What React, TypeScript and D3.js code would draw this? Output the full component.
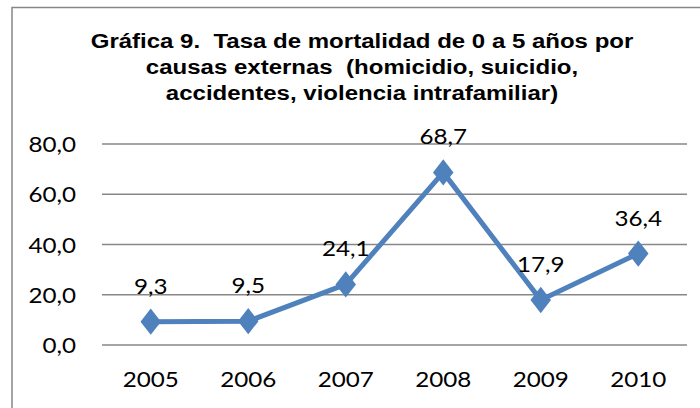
import React, { useEffect, useRef } from 'react';
import { scaleLinear, scalePoint, select, line, symbol, symbolDiamond } from 'd3';

const years = ['2005', '2006', '2007', '2008', '2009', '2010'];
const rates = [9.3, 9.5, 24.1, 68.7, 17.9, 36.4];
const yTicks = [0, 20, 40, 60, 80];
const titleLines = [
  'Gráfica 9.  Tasa de mortalidad de 0 a 5 años por',
  'causas externas  (homicidio, suicidio,',
  'accidentes, violencia intrafamiliar)',
];

const W = 700;
const H = 408;
const fmt = (v: number) => v.toFixed(1).replace('.', ',');

const App: React.FC = () => {
  const svgRef = useRef<SVGSVGElement>(null);

  useEffect(() => {
    const svg = select(svgRef.current);
    svg.selectAll('*').remove();

    const left = 102;
    const right = 687;
    const x = scalePoint<string>().domain(years).range([left, right]).padding(0.5);
    const y = scaleLinear().domain([0, 80]).range([345, 144]);

    // frame
    svg
      .append('rect')
      .attr('x', 12)
      .attr('y', 7.5)
      .attr('width', W)
      .attr('height', H)
      .attr('fill', 'white')
      .attr('stroke', '#878787')
      .attr('stroke-width', 1.5);

    // title (text in the source is a bit wide, stretch horizontally)
    const title = svg
      .append('g')
      .selectAll('text')
      .data(titleLines)
      .join('text')
      .attr('text-anchor', 'middle')
      .attr('xml:space', 'preserve')
      .style('white-space', 'pre')
      .attr('font-family', '"Liberation Sans", Arial, sans-serif')
      .attr('font-weight', 'bold')
      .attr('font-size', 21)
      .attr('fill', '#000')
      .text((d) => d);
    const firstLen = (title.node() as SVGTextElement).getComputedTextLength();
    const tsx = firstLen > 0 ? 543 / firstLen : 1;
    title.attr('transform', (_, i) => `translate(362,${48 + i * 26}) scale(${tsx},1)`);

    // gridlines
    svg
      .append('g')
      .selectAll('line')
      .data(yTicks)
      .join('line')
      .attr('x1', left)
      .attr('x2', right)
      .attr('y1', (d) => y(d))
      .attr('y2', (d) => y(d))
      .attr('stroke', '#878787')
      .attr('stroke-width', 1.5);

    const font = 'Lato, "Open Sans", sans-serif';
    const sx = 1.1;

    // y labels
    svg
      .append('g')
      .selectAll('text')
      .data(yTicks)
      .join('text')
      .attr('transform', (d) => `translate(76,${y(d) + 8}) scale(${sx},1)`)
      .attr('text-anchor', 'end')
      .attr('font-family', font)
      .attr('font-size', 22)
      .attr('fill', '#000')
      .text((d) => fmt(d));

    // x labels
    svg
      .append('g')
      .selectAll('text')
      .data(years)
      .join('text')
      .attr('transform', (d) => `translate(${x(d)},387) scale(${sx},1)`)
      .attr('text-anchor', 'middle')
      .attr('font-family', font)
      .attr('font-size', 22)
      .attr('fill', '#000')
      .text((d) => d);

    const pts = years.map((yr, i) => ({ yr, v: rates[i] }));
    const lineGen = line<{ yr: string; v: number }>()
      .x((d) => x(d.yr) as number)
      .y((d) => y(d.v));

    svg
      .append('path')
      .datum(pts)
      .attr('d', lineGen)
      .attr('fill', 'none')
      .attr('stroke', '#4F81BD')
      .attr('stroke-width', 5)
      .attr('stroke-linejoin', 'round');

    const diamond = symbol().type(symbolDiamond).size(200);
    svg
      .append('g')
      .selectAll('path')
      .data(pts)
      .join('path')
      .attr('d', diamond)
      .attr('transform', (d) => `translate(${x(d.yr)},${y(d.v)}) scale(1.35,1)`)
      .attr('fill', '#4F81BD');

    // data labels
    svg
      .append('g')
      .selectAll('text')
      .data(pts)
      .join('text')
      .attr('transform', (d) => `translate(${x(d.yr)},${y(d.v) - 28}) scale(${sx},1)`)
      .attr('text-anchor', 'middle')
      .attr('font-family', font)
      .attr('font-size', 22)
      .attr('fill', '#000')
      .text((d) => fmt(d.v));
  }, []);

  return (
    <svg
      ref={svgRef}
      width={W}
      height={H}
      style={{ position: 'absolute', left: 0, top: 0, background: 'white' }}
    />
  );
};

export default App;
